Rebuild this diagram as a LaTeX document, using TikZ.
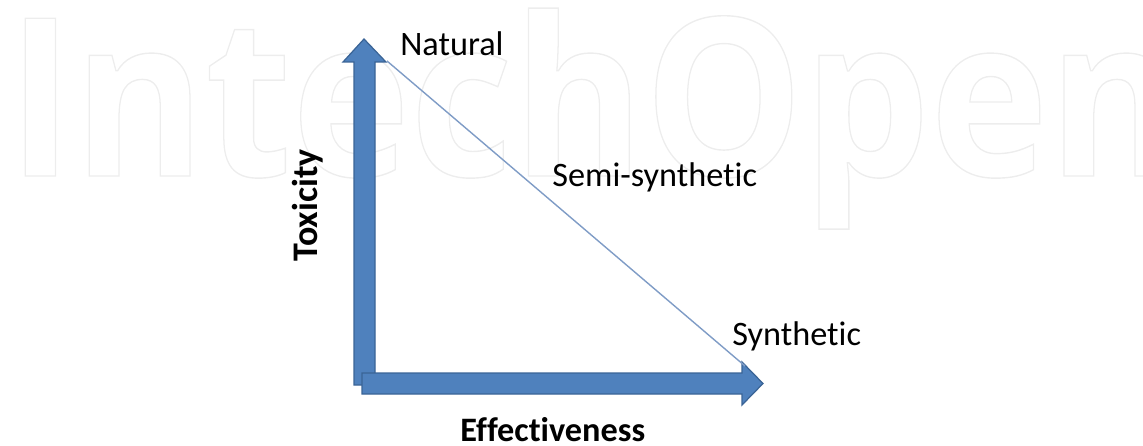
\documentclass[tikz,border=0pt]{standalone}
\usepackage{fontspec}
\setmainfont{Carlito}[Ligatures=NoCommon]
\newfontfamily\wmfont{Open Sans}

\definecolor{axisblue}{HTML}{4F81BD}
\definecolor{axisedge}{HTML}{3A6496}
\definecolor{slopeblue}{HTML}{7F9CC6}

% outlined (stroke only) text for the watermark
\newcommand{\outlinetext}[1]{\special{pdf:literal direct q 1 Tr 0.8 w 0.93 G 1 g}#1\special{pdf:literal direct Q}}

\tikzset{
  axisarrow/.style={fill=axisblue, draw=axisedge, line width=0.7pt, line join=miter},
  slope/.style={draw=slopeblue, line width=0.8pt},
  lbl/.style={inner sep=0pt, font=\fontsize{19.5}{22}\selectfont},
  axislbl/.style={inner sep=0pt, font=\fontsize{19.5}{22}\selectfont\bfseries},
}

\begin{document}
\begin{tikzpicture}[x=0.02cm,y=-0.02cm]
  \useasboundingbox (0,0) rectangle (1143,446);

  % watermark in the background
  \node[anchor=base west, inner sep=0pt] (wm) at (7,176)
    {\wmfont\bfseries\fontsize{125.8}{130}\selectfont\scalebox{0.905}[1]{\outlinetext{IntechOpen}}};

  % toxicity axis
  \draw[axisarrow] (354,385) -- (354,62) -- (343,62) -- (364,39) -- (386,62) -- (375,62) -- (375,385) -- cycle;
  % effectiveness axis
  \draw[axisarrow] (362,373) -- (742,373) -- (742,362) -- (763,383.5) -- (742,405) -- (742,394) -- (362,394) -- cycle;

  % end points of the slope
  \coordinate (top) at (387,61);
  \coordinate (bottom) at (745,366);
  \draw[slope] (top) -- (bottom);

  % labels
  \node[lbl, anchor=base west] (natural) at (400,56) {Natural};
  \node[lbl, anchor=base west] (semi) at (552,187) {Semi-synthetic};
  \node[lbl, anchor=base west] (synth) at (732,345) {Synthetic};
  \node[axislbl, anchor=base west] (effect) at (460,441) {Effectiveness};
  \node[axislbl, anchor=base west, rotate=90, font=\fontsize{20.5}{23}\selectfont\bfseries] (tox) at (317,262) {Toxicity};
\end{tikzpicture}
\end{document}
